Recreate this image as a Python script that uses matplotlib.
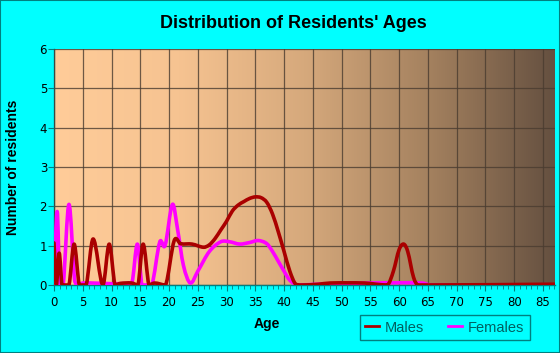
import numpy as np
import matplotlib
matplotlib.use("Agg")
import matplotlib.pyplot as plt
from matplotlib.path import Path
from matplotlib.patches import PathPatch
from matplotlib.colors import LinearSegmentedColormap
from matplotlib.lines import Line2D

# ---- data ----
male_ages = [0, 0.4, 0.9, 1.4, 2.6, 3.5, 4.4, 5.6, 6.8, 8.5, 9.6, 10.6, 11.5, 13.5, 14.6,
             15.5, 16.5, 17.5, 19.4, 20.9, 22, 24, 26, 27, 28, 29, 30, 31, 32, 33, 34, 35,
             36, 37, 38, 39, 40, 41, 42, 43, 46, 48, 54, 56, 58, 59, 60, 60.8, 61.5, 62.5,
             63.3, 87]
male_vals = [1.07, 0.0, 0.81, 0.0, 0.0, 1.04, 0.0, 0.0, 1.17, 0.0, 1.04, 0.0, 0.04, 0.05, 0.0,
             1.04, 0.0, 0.05, 0.0, 1.13, 1.05, 1.04, 0.96, 1.02, 1.18, 1.4, 1.62, 1.88, 2.03, 2.12,
             2.2, 2.24, 2.22, 2.1, 1.8, 1.35, 0.85, 0.35, 0.02, 0.0, 0.02, 0.05, 0.05, 0.02, 0.0,
             0.35, 0.9, 1.04, 0.85, 0.2, 0.0, 0.02]

female_ages = [0, 0.55, 1.0, 1.6, 2.6, 3.6, 4.2, 5, 13.5, 14.5, 15.3, 17, 18.4, 19.3, 20.6,
               21.5, 22.5, 23.7, 25, 27, 29, 30.5, 32.3, 34, 35.5, 37, 38, 39, 40, 41, 42.4,
               46, 55, 64, 65.5, 87]
female_vals = [0.0, 1.87, 0.0, 0.0, 2.05, 0.1, 0.0, 0.05, 0.05, 1.04, 0.0, 0.0, 1.1, 1.0, 2.05,
               1.4, 0.5, 0.05, 0.35, 0.85, 1.1, 1.1, 1.04, 1.08, 1.13, 1.05, 0.85, 0.6, 0.35,
               0.12, 0.0, 0.02, 0.05, 0.05, 0.0, 0.0]

x_ticks = list(range(0, 90, 5))
y_ticks = [0, 1, 2, 3, 4, 5, 6]

CYAN = "#00FFFF"
TEAL = "#008080"


def smooth_path(xs, ys):
    """Smooth curve through the points, expressed as a cubic Bezier path."""
    xs = np.asarray(xs, float)
    ys = np.asarray(ys, float)
    verts = [(xs[0], ys[0])]
    codes = [Path.MOVETO]
    n = len(xs)
    for i in range(n - 1):
        x0, y0 = (xs[i - 1], ys[i - 1]) if i > 0 else (xs[i], ys[i])
        x1, y1 = xs[i], ys[i]
        x2, y2 = xs[i + 1], ys[i + 1]
        x3, y3 = (xs[i + 2], ys[i + 2]) if i + 2 < n else (x2, y2)
        h = x2 - x1
        m1 = (y2 - y0) / (x2 - x0) if x2 != x0 else 0.0
        m2 = (y3 - y1) / (x3 - x1) if x3 != x1 else 0.0
        c1 = (x1 + h / 3, max(0.0, y1 + m1 * h / 3))
        c2 = (x2 - h / 3, max(0.0, y2 - m2 * h / 3))
        verts += [c1, c2, (x2, y2)]
        codes += [Path.CURVE4] * 3
    return Path(verts, codes)


fig = plt.figure(figsize=(5.6, 3.53), dpi=100, facecolor=CYAN)
ax = fig.add_axes([54 / 560, 1 - 285 / 353, 501 / 560, 236 / 353])

cmap = LinearSegmentedColormap.from_list(
    "bg", [(0.0, "#FFCC99"), (0.25, "#F6C391"), (0.5, "#D6A97C"),
           (0.75, "#A4815F"), (1.0, "#655040")])
grad = np.linspace(0, 1, 256).reshape(1, -1)
ax.imshow(grad, aspect="auto", cmap=cmap, extent=[0, 87.1, 0, 6], zorder=0)

ax.set_xlim(0, 87.1)
ax.set_ylim(0, 6)

ax.set_xticks(x_ticks)
ax.set_xticks(range(0, 88), minor=True)
ax.set_yticks(y_ticks)
ax.grid(True, which="major", color="#4a3c30", linewidth=0.9, alpha=0.8, zorder=1)
ax.set_axisbelow(False)

for name, sp in ax.spines.items():
    if name in ("left", "bottom"):
        sp.set_color(TEAL)
        sp.set_linewidth(1.0)
    else:
        sp.set_visible(False)

ax.tick_params(axis="x", which="major", length=4, color=TEAL, labelsize=8.5, pad=4,
               labelcolor="black")
ax.tick_params(axis="x", which="minor", length=3, color=TEAL)
ax.tick_params(axis="y", which="major", length=4, color=TEAL, labelsize=8.5, pad=1,
               labelcolor="black")

for xs, ys, col, z in [(female_ages, female_vals, "#FF00FF", 3),
                       (male_ages, male_vals, "#AA0000", 4)]:
    patch = PathPatch(smooth_path(xs, ys), facecolor="none", edgecolor=col,
                      linewidth=2.6, zorder=z, clip_on=True, joinstyle="round",
                      capstyle="round")
    ax.add_patch(patch)

fig.text(293 / 560, 1 - 24 / 353, "Distribution of Residents' Ages", ha="center",
         va="center", fontsize=13, fontweight="bold", family="Liberation Sans")
fig.text(13 / 560, 1 - 167 / 353, "Number of residents", ha="center", va="center",
         rotation=90, fontsize=10, fontweight="bold", family="Liberation Sans")
fig.text(267 / 560, 1 - 324 / 353, "Age", ha="center", va="center",
         fontsize=10, fontweight="bold", family="Liberation Sans")

handles = [Line2D([], [], color="#AA0000", lw=2), Line2D([], [], color="#FF00FF", lw=2)]
leg = fig.legend(handles, ["Males", "Females"], loc="center",
                 bbox_to_anchor=(444.5 / 560, 1 - 327.5 / 353), ncol=2, frameon=True,
                 fancybox=False, edgecolor=TEAL, facecolor=CYAN, framealpha=1,
                 handlelength=1.0, handletextpad=0.4, columnspacing=1.6,
                 borderpad=0.35, prop={"family": "Liberation Sans", "size": 10.5})
leg.get_frame().set_linewidth(1.0)
for t in leg.get_texts():
    t.set_color("#006060")

fig.patches.append(matplotlib.patches.Rectangle((0, 0), 1, 1, transform=fig.transFigure,
                                                fill=False, edgecolor=TEAL, linewidth=1.5))

fig.savefig("out.png", dpi=100, facecolor=CYAN)
